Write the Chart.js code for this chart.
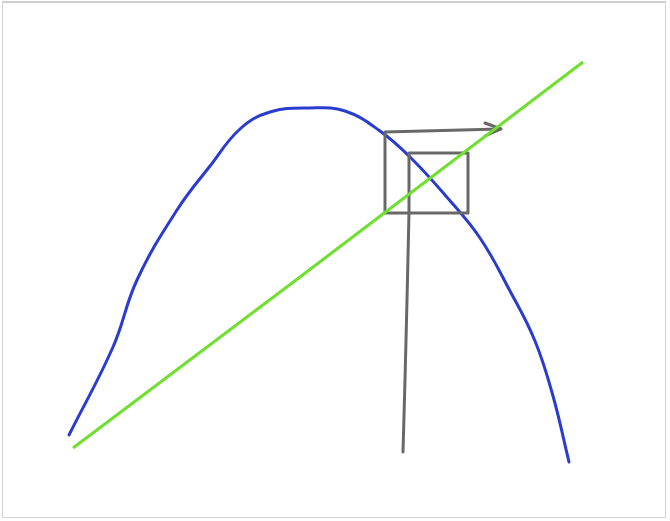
<!DOCTYPE html>
<html>
<head>
<meta charset="utf-8">
<script src="https://cdn.jsdelivr.net/npm/chart.js@4"></script>
<style>
  body { margin: 0; background: #fff; }
  #wrap { position: relative; width: 670px; height: 521px; }
  #frame { position: absolute; left: 2px; top: 1px; width: 664px; height: 517px;
           border: 1px solid #d4d4d4; border-top: 2px solid #cfcfcf; box-sizing: border-box; pointer-events: none; }
</style>
</head>
<body>
<div id="wrap">
  <canvas id="sketch" width="670" height="521"></canvas>
  <div id="frame"></div>
</div>
<script>
// Sketch data (x to the right, y upwards)

// blue hump-shaped curve
const curveX = [69, 113, 137, 177, 210, 240, 270, 310, 345, 380, 410, 445, 480, 510, 535, 553, 569];
const curveY = [86, 174, 241, 311, 355, 392, 409, 413, 410, 390, 364, 326, 283, 230, 180, 125, 59];

// green straight line
const lineX = [73, 300, 583];
const lineY = [73, 244, 459];

// gray path with two boxes
const pathX = [403, 405, 407, 409, 409, 468, 468, 385, 385, 500];
const pathY = [69, 141, 221, 308, 368, 368, 308, 308, 389, 392];

// arrow head
const arrowX = [485, 501, 485];
const arrowY = [398, 392, 385];

function toPoints(xs, ys) {
  return xs.map((x, i) => ({ x: x, y: ys[i] }));
}

new Chart(document.getElementById('sketch'), {
  type: 'scatter',
  data: {
    datasets: [
      {
        data: toPoints(lineX, lineY),
        showLine: true,
        borderColor: '#6fe030',
        borderWidth: 3,
        pointRadius: 0,
        tension: 0
      },
      {
        data: toPoints(pathX, pathY),
        showLine: true,
        borderColor: '#686868',
        borderWidth: 3,
        pointRadius: 0,
        tension: 0,
        borderJoinStyle: 'round',
        borderCapStyle: 'round'
      },
      {
        data: toPoints(arrowX, arrowY),
        showLine: true,
        borderColor: '#686868',
        borderWidth: 3,
        pointRadius: 0,
        tension: 0,
        borderJoinStyle: 'round',
        borderCapStyle: 'round'
      },
      {
        data: toPoints(curveX, curveY),
        showLine: true,
        borderColor: '#2a3ccf',
        borderWidth: 3,
        pointRadius: 0,
        tension: 0.4,
        borderCapStyle: 'round'
      }
    ]
  },
  options: {
    responsive: false,
    animation: false,
    devicePixelRatio: 1,
    layout: { padding: 0 },
    plugins: {
      legend: { display: false },
      tooltip: { enabled: false }
    },
    scales: {
      x: { type: 'linear', min: 0, max: 670, display: false },
      y: { type: 'linear', min: 0, max: 521, display: false }
    }
  }
});
</script>
</body>
</html>
